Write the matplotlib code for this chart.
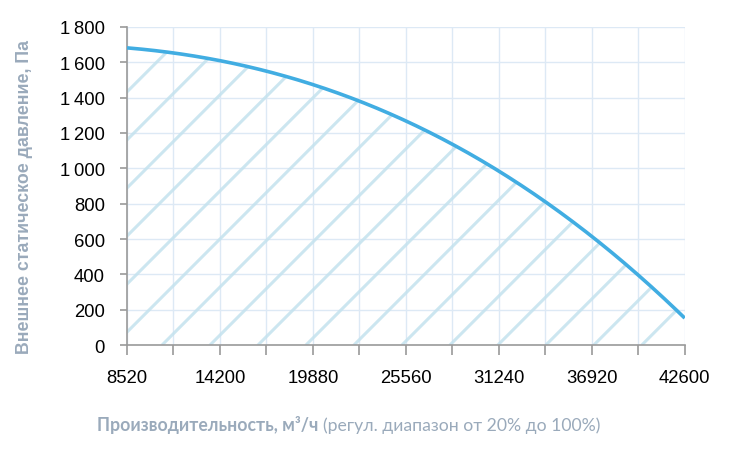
import numpy as np
import matplotlib.pyplot as plt
from matplotlib.ticker import FuncFormatter, MultipleLocator

# Характеристика вентилятора
flow = [8520, 11360, 14200, 17040, 19880, 22720, 25560, 28400,
        31240, 34080, 36920, 39760, 42600]
pressure = [1680, 1655, 1610, 1545, 1470, 1380, 1270, 1140,
            985, 810, 610, 395, 155]
x_ticks = [8520, 14200, 19880, 25560, 31240, 36920, 42600]

curve_color = "#41ade2"
hatch_color = "#c4e2ee"
grid_color = "#dde9f5"
label_grey = "#9aaabb"

plt.rcParams["font.family"] = ["Liberation Sans", "DejaVu Sans"]

fig = plt.figure(figsize=(7.3, 4.56), dpi=100)
ax = fig.add_axes([0.174, 0.241, 0.764, 0.698])

# smooth curve through the read points
xs = np.linspace(flow[0], flow[-1], 300)
coef = np.polyfit(flow, pressure, 3)
ys = np.polyval(coef, xs)

area = ax.fill_between(xs, 0, ys, facecolor="none", edgecolor="none")

# diagonal hatch lines, clipped to the area under the curve
clip = area.get_paths()[0]
w_px, h_px = 558.0, 318.0
step = 48.0
slope = 1.0
for x0 in np.arange(35.0 - 8 * step, w_px + step, step):
    xa = np.array([x0, x0 + h_px / slope]) / w_px
    ya = np.array([0.0, 1.0])
    ln, = ax.plot(xa, ya, transform=ax.transAxes, color=hatch_color,
                  lw=2.2, alpha=0.85, solid_capstyle="butt", zorder=1)
    ln.set_clip_path(clip, ax.transData)

ax.plot(xs, ys, color=curve_color, lw=2.6, zorder=3, solid_capstyle="butt")

ax.set_xlim(flow[0], flow[-1])
ax.set_ylim(0, 1800)
ax.set_xticks(x_ticks)
ax.xaxis.set_minor_locator(MultipleLocator(2840))
ax.yaxis.set_major_locator(MultipleLocator(200))
ax.yaxis.set_major_formatter(FuncFormatter(lambda v, p: f"{int(v):,}".replace(",", "\u2009")))

ax.grid(True, which="both", axis="x", color=grid_color, lw=1, zorder=0)
ax.grid(True, which="major", axis="y", color=grid_color, lw=1, zorder=0)
ax.set_axisbelow(True)

for s in ["top", "right"]:
    ax.spines[s].set_visible(False)
for s in ["left", "bottom"]:
    ax.spines[s].set_color("#9a9a9a")
    ax.spines[s].set_linewidth(1.2)

ax.tick_params(axis="x", which="both", length=7, width=1.2, color="#9a9a9a",
               labelsize=13.3, pad=10)
ax.tick_params(axis="y", length=5, width=1.2, color="#9a9a9a", labelsize=13.3, pad=11)

ax.set_ylabel("Внешнее статическое давление, Па", color=label_grey,
              fontsize=12.8, fontweight="bold")
ax.yaxis.set_label_coords(-0.168, 0.469)

t1 = fig.text(0.133, 0.055, "Производительность, м³/ч", color=label_grey,
              fontsize=12.7, fontweight="bold", fontfamily=["Lato", "DejaVu Sans"])
fig.canvas.draw()
bb = t1.get_window_extent()
fig.text((bb.x1 + 5) / fig.bbox.width, 0.055, "(регул. диапазон от 20% до 100%)",
         color=label_grey, fontsize=12.7, fontfamily=["Lato", "DejaVu Sans"])

fig.savefig("out.png", dpi=100)
